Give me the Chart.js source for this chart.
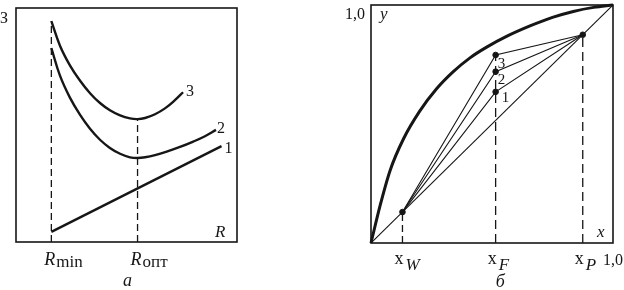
<!DOCTYPE html>
<html>
<head>
<meta charset="utf-8">
<script src="https://cdn.jsdelivr.net/npm/chart.js@4"></script>
<style>
  html, body { margin: 0; padding: 0; background: #fff; }
  #quadro { position: relative; width: 624px; height: 290px; overflow: hidden; }
  #graficoA { position: absolute; left: 0; top: 0; width: 260px; height: 290px; }
  #graficoB { position: absolute; left: 330px; top: 0; width: 294px; height: 290px; }
</style>
</head>
<body>
<div id="quadro">
  <canvas id="graficoA" width="260" height="290"></canvas>
  <canvas id="graficoB" width="294" height="290"></canvas>
</div>
<script>
// ====== DADOS: painel а (custos x R) ======
const rMin = 1.6;
const rOpt = 5.5;
const curva1R = [1.6, 9.3];
const curva1Z = [0.43, 4.1];
const curva2R = [1.6, 1.99, 2.44, 2.9, 3.35, 3.8, 4.25, 4.71, 5.16, 5.5, 5.84, 6.29, 6.82, 7.42, 8.02, 8.55, 9.05];
const curva2Z = [8.29, 7.11, 6.17, 5.43, 4.84, 4.37, 4.02, 3.77, 3.62, 3.59, 3.62, 3.71, 3.86, 4.06, 4.29, 4.52, 4.79];
const curva3R = [1.6, 1.99, 2.44, 2.9, 3.35, 3.8, 4.25, 4.71, 5.16, 5.5, 5.84, 6.29, 6.74, 7.19, 7.56];
const curva3Z = [9.44, 8.39, 7.55, 6.89, 6.36, 5.94, 5.63, 5.41, 5.28, 5.25, 5.3, 5.46, 5.71, 6.06, 6.4];
const rotulosCurvas = ["1", "2", "3"];

// ====== DADOS: painel б (diagrama y-x) ======
const eqX = [0, 0.037, 0.079, 0.134, 0.202, 0.271, 0.34, 0.409, 0.478, 0.56, 0.657, 0.75, 0.836, 0.92, 1];
const eqY = [0, 0.155, 0.305, 0.437, 0.555, 0.648, 0.72, 0.778, 0.823, 0.868, 0.912, 0.948, 0.973, 0.99, 1];
const xW = 0.13;
const xF = 0.515;
const xP = 0.875;
const yF = [0.635, 0.72, 0.79];
const rotulosF = ["1", "2", "3"];

const COR = "#161616";
const SERIF = "'Liberation Serif', 'DejaVu Serif', serif";

function pontos(xs, ys) {
  return xs.map((x, i) => ({ x, y: ys[i] }));
}

function linha(data, largura, extra = {}) {
  return Object.assign({
    data,
    showLine: true,
    borderColor: COR,
    borderWidth: largura,
    pointRadius: 0,
    fill: false,
  }, extra);
}

function texto(ctx, str, x, y, tam, italico) {
  ctx.font = (italico ? "italic " : "") + tam + "px " + SERIF;
  ctx.fillStyle = COR;
  ctx.textBaseline = "alphabetic";
  ctx.textAlign = "left";
  ctx.fillText(str, x, y);
  return ctx.measureText(str).width;
}

const moldura = {
  id: "moldura",
  afterDatasetsDraw(chart) {
    const { ctx, chartArea: a } = chart;
    ctx.save();
    ctx.strokeStyle = COR;
    ctx.lineWidth = 1.6;
    ctx.strokeRect(a.left, a.top, a.right - a.left, a.bottom - a.top);
    ctx.restore();
  }
};

const escalaOculta = (min, max) => ({ type: "linear", min, max, display: false });

const opcoesBase = (padding, xmin, xmax, ymin, ymax) => ({
  responsive: false,
  animation: false,
  layout: { padding },
  plugins: { legend: { display: false }, tooltip: { enabled: false } },
  scales: { x: escalaOculta(xmin, xmax), y: escalaOculta(ymin, ymax) },
});

// ====== GRÁFICO а ======
const rotulosA = {
  id: "rotulosA",
  afterDraw(chart) {
    const { ctx, chartArea: a, scales } = chart;
    const px = v => scales.x.getPixelForValue(v);
    const py = v => scales.y.getPixelForValue(v);
    ctx.save();
    texto(ctx, "З", 0, 23, 16, false);
    texto(ctx, "R", a.right - 22, a.bottom - 5, 17, true);
    [[rMin, "min"], [rOpt, "опт"]].forEach(([v, sub]) => {
      const x0 = px(v) - 7;
      const w = texto(ctx, "R", x0, a.bottom + 23, 18, true);
      texto(ctx, sub, x0 + w + 1, a.bottom + 25, 17, false);
    });
    texto(ctx, "а", 123, 286, 18, true);
    const fins = [
      [curva1R, curva1Z, 3, 7],
      [curva2R, curva2Z, 1, 3],
      [curva3R, curva3Z, 3, 4],
    ];
    fins.forEach(([xs, ys, dx, dy], i) => {
      const n = xs.length - 1;
      texto(ctx, rotulosCurvas[i], px(xs[n]) + dx, py(ys[n]) + dy, 16, false);
    });
    ctx.restore();
  }
};

new Chart(document.getElementById("graficoA"), {
  type: "scatter",
  data: {
    datasets: [
      linha([{ x: rMin, y: 0 }, { x: rMin, y: curva3Z[0] }], 1.3, { borderDash: [7, 4] }),
      linha([{ x: rOpt, y: 0 }, { x: rOpt, y: curva3Z[9] }], 1.3, { borderDash: [7, 4] }),
      linha(pontos(curva1R, curva1Z), 2.4),
      linha(pontos(curva2R, curva2Z), 2.4, { tension: 0.4 }),
      linha(pontos(curva3R, curva3Z), 2.4, { tension: 0.4 }),
    ]
  },
  options: opcoesBase({ left: 16, top: 8, right: 23, bottom: 48 }, 0, 10, 0, 10),
  plugins: [moldura, rotulosA],
});

// ====== GRÁFICO б ======
const rotulosB = {
  id: "rotulosB",
  afterDraw(chart) {
    const { ctx, chartArea: a, scales } = chart;
    const px = v => scales.x.getPixelForValue(v);
    const py = v => scales.y.getPixelForValue(v);
    ctx.save();
    texto(ctx, "1,0", 15, 19, 16, false);
    texto(ctx, "y", a.left + 9, 19, 17, true);
    texto(ctx, "x", a.right - 16, a.bottom - 6, 17, true);
    texto(ctx, "1,0", a.right - 10, a.bottom + 22, 16, false);
    [[xW, "W"], [xF, "F"], [xP, "P"]].forEach(([v, sub]) => {
      const x0 = px(v) - 8;
      const w = texto(ctx, "x", x0, a.bottom + 21, 18, false);
      texto(ctx, sub, x0 + w + 2, a.bottom + 27, 17, true);
    });
    texto(ctx, "б", px(xF), 287, 18, true);
    const desloc = [[6, 10], [2, 12.5], [2, 13]];
    yF.forEach((v, i) => {
      texto(ctx, rotulosF[i], px(xF) + desloc[i][0], py(v) + desloc[i][1], 15, false);
    });
    ctx.restore();
  }
};

const operacao = yF.map(v =>
  linha([{ x: xW, y: xW }, { x: xF, y: v }, { x: xP, y: xP }], 1.1)
);

const pontosB = [{ x: xW, y: xW }, { x: xP, y: xP }].concat(yF.map(v => ({ x: xF, y: v })));

new Chart(document.getElementById("graficoB"), {
  type: "scatter",
  data: {
    datasets: [
      linha([{ x: xW, y: 0 }, { x: xW, y: xW }], 1.3, { borderDash: [7, 4] }),
      linha([{ x: xF, y: 0 }, { x: xF, y: yF[2] }], 1.3, { borderDash: [9, 5] }),
      linha([{ x: xP, y: 0 }, { x: xP, y: xP }], 1.3, { borderDash: [9, 5] }),
      linha([{ x: 0, y: 0 }, { x: 1, y: 1 }], 1.1),
      ...operacao,
      linha(pontos(eqX, eqY), 3, { cubicInterpolationMode: "monotone", clip: false }),
      { data: pontosB, pointRadius: 2.8, backgroundColor: COR, borderColor: COR, showLine: false },
    ]
  },
  options: opcoesBase({ left: 41, top: 1, right: 11, bottom: 47 }, 0, 1, 0, 1),
  plugins: [moldura, rotulosB],
});
</script>
</body>
</html>
